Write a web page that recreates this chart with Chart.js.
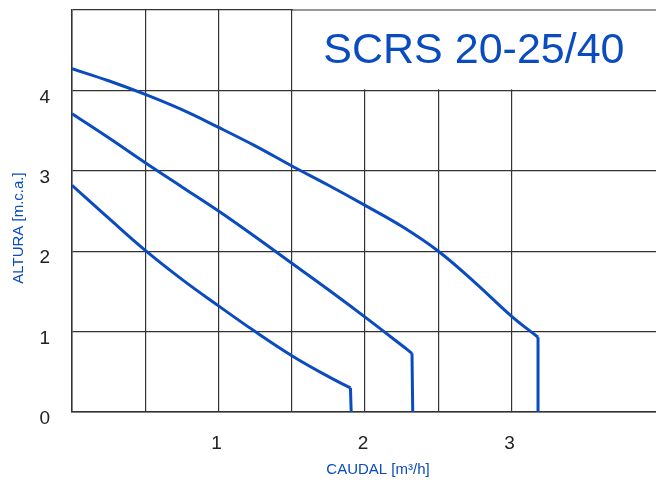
<!DOCTYPE html>
<html>
<head>
<meta charset="utf-8">
<script src="https://cdn.jsdelivr.net/npm/chart.js@4/dist/chart.umd.min.js"></script>
<style>
  html, body { margin: 0; padding: 0; background: #fff; }
  #wrap { width: 656px; height: 482px; }
</style>
</head>
<body>
<div id="wrap"><canvas id="chart" width="656" height="482"></canvas></div>
<script>
// caudal (m3/h) y altura (m.c.a.)
var flowLow = [0, 0.25, 0.5, 0.75, 1.0, 1.25, 1.5, 1.75, 1.9];
var headLow = [2.82, 2.41, 2.01, 1.65, 1.32, 1.00, 0.70, 0.44, 0.30];
var dropLow = 1.905;

var flowMid = [0, 0.25, 0.5, 0.75, 1.0, 1.25, 1.5, 1.75, 2.0, 2.25, 2.32];
var headMid = [3.71, 3.41, 3.10, 2.80, 2.50, 2.18, 1.85, 1.52, 1.18, 0.83, 0.73];
var dropMid = 2.325;

var flowHigh = [0, 0.25, 0.5, 0.75, 1.0, 1.25, 1.5, 1.75, 2.0, 2.25, 2.5, 2.75, 3.0, 3.18];
var headHigh = [4.27, 4.12, 3.95, 3.76, 3.54, 3.31, 3.06, 2.82, 2.57, 2.31, 2.00, 1.61, 1.19, 0.93];
var dropHigh = 3.18;

var xTickLabels = ['1', '2', '3'];
var yTickLabels = ['0', '1', '2', '3', '4'];

var title = 'SCRS 20-25/40';
var xTitle = 'CAUDAL [m\u00b3/h]';
var yTitle = 'ALTURA [m.c.a.]';

var blue = '#0a4cc0';
var gridColor = '#333333';
var font = 'Liberation Sans';

function points(xs, ys) {
  return xs.map(function (v, i) { return { x: v, y: ys[i] }; });
}

function curve(xs, ys) {
  return {
    data: points(xs, ys),
    borderColor: blue,
    borderWidth: 3,
    pointRadius: 0,
    tension: 0.4,
    fill: false
  };
}

function drop(xs, ys, dx) {
  var last = xs.length - 1;
  return {
    data: [{ x: xs[last], y: ys[last] }, { x: dx, y: 0 }],
    borderColor: blue,
    borderWidth: 3,
    pointRadius: 0,
    tension: 0,
    fill: false
  };
}

var overlay = {
  id: 'overlay',
  beforeDatasetsDraw: function (chart) {
    var ctx = chart.ctx, area = chart.chartArea;
    var x = chart.scales.x, y = chart.scales.y;
    var left = x.getPixelForValue(1.5);
    var bottom = y.getPixelForValue(4);
    ctx.save();
    // caja del titulo: tapa la reticula sobre la linea de 4 m
    ctx.fillStyle = '#fff';
    ctx.fillRect(left + 1, area.top - 4, area.right - left, bottom - area.top + 3);
    ctx.strokeStyle = gridColor;
    ctx.lineWidth = 1.2;
    ctx.beginPath();
    ctx.moveTo(left, area.top);
    ctx.lineTo(area.right, area.top);
    ctx.stroke();
    ctx.fillStyle = blue;
    ctx.font = '43px "' + font + '"';
    ctx.textAlign = 'center';
    ctx.textBaseline = 'middle';
    ctx.fillText(title, (left + area.right) / 2, (area.top + bottom) / 2 + 1);
    ctx.restore();
  },
  afterDraw: function (chart) {
    var ctx = chart.ctx, area = chart.chartArea;
    ctx.save();
    ctx.fillStyle = blue;
    ctx.font = '15px "' + font + '"';
    ctx.textAlign = 'center';
    ctx.textBaseline = 'middle';
    ctx.fillText(xTitle, (area.left + area.right) / 2 + 14, area.bottom + 58);
    ctx.translate(19, (area.top + area.bottom) / 2 + 17);
    ctx.rotate(-Math.PI / 2);
    ctx.fillText(yTitle, 0, 0);
    ctx.restore();
  }
};

new Chart(document.getElementById('chart'), {
  type: 'line',
  data: {
    datasets: [
      curve(flowLow, headLow), drop(flowLow, headLow, dropLow),
      curve(flowMid, headMid), drop(flowMid, headMid, dropMid),
      curve(flowHigh, headHigh), drop(flowHigh, headHigh, dropHigh)
    ]
  },
  options: {
    responsive: false,
    animation: false,
    layout: { padding: { top: 10, right: 0, left: 0, bottom: 0 } },
    plugins: { legend: { display: false }, tooltip: { enabled: false } },
    scales: {
      x: {
        type: 'linear',
        min: 0,
        max: 3.985,
        afterFit: function (s) {
          s.height = 70;
          s.paddingLeft = 0;
          s.paddingRight = 0;
        },
        ticks: {
          stepSize: 0.5,
          padding: 20,
          labelOffset: -2,
          color: '#222',
          font: { family: font, size: 19 },
          callback: function (v) {
            var i = xTickLabels.indexOf(String(v));
            return i >= 0 ? xTickLabels[i] : '';
          }
        },
        grid: {
          drawTicks: false,
          lineWidth: 1.2,
          color: function (c) { return c.tick && c.tick.value > 3.9 ? 'rgba(0,0,0,0)' : gridColor; }
        },
        border: { color: gridColor, width: 1.5 }
      },
      y: {
        min: 0,
        max: 5,
        afterFit: function (s) {
          s.width = 72;
          s.paddingTop = 0;
          s.paddingBottom = 0;
        },
        ticks: {
          stepSize: 1,
          padding: 22,
          labelOffset: 7,
          color: '#222',
          font: { family: font, size: 19 },
          callback: function (v) {
            var i = yTickLabels.indexOf(String(v));
            return i >= 0 ? yTickLabels[i] : '';
          }
        },
        grid: { drawTicks: false, lineWidth: 1.2, color: gridColor },
        border: { color: gridColor, width: 1.5 }
      }
    }
  },
  plugins: [overlay]
});
</script>
</body>
</html>
